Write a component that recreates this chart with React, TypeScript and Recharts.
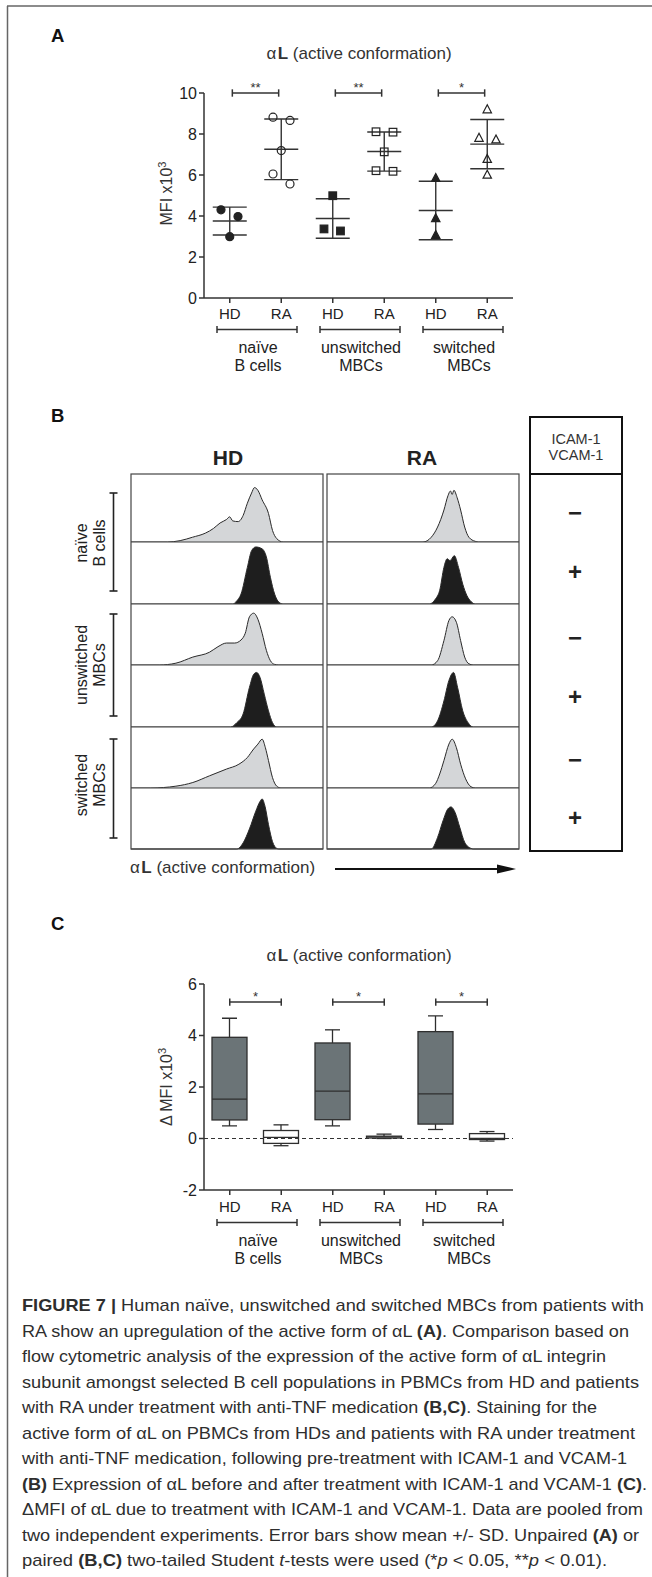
import React from 'react';
import {
  ScatterChart, Scatter, ComposedChart, Bar, AreaChart, Area,
  XAxis, YAxis, ErrorBar, ReferenceLine,
} from 'recharts';

// shared categories
const catLabels = ['HD', 'RA', 'HD', 'RA', 'HD', 'RA'];
const groupLines = [['naïve', 'B cells'], ['unswitched', 'MBCs'], ['switched', 'MBCs']];
const catTicks = [0, 1, 2, 3, 4, 5];

// panel A: MFI x10^3 per donor
const yTicksA = [0, 2, 4, 6, 8, 10];
const naiveHD = [4.3, 3.97, 2.99];
const naiveRA = [8.82, 8.66, 7.19, 6.05, 5.56];
const unswHD = [4.99, 3.37, 3.27];
const unswRA = [8.11, 8.09, 7.13, 6.21, 6.18];
const swHD = [5.85, 3.89, 3.07];
const swRA = [9.2, 7.81, 7.73, 6.78, 6.01];
// horizontal spread of the dots inside each column (category units)
const spreadNaiveHD = [-0.17, 0.16, 0];
const spreadNaiveRA = [-0.16, 0.17, 0, -0.16, 0.17];
const spreadUnswHD = [0, -0.17, 0.15];
const spreadUnswRA = [-0.16, 0.17, 0, -0.16, 0.17];
const spreadSwHD = [0, 0, 0];
const spreadSwRA = [0, -0.16, 0.17, 0, 0];
const sigA = ['**', '**', '*'];

// panel B: histograms (x = position on log axis 0-100, y = % of modal)
const hdNaiveCtl = [[0, 0], [19, 0], [25.6, 2], [32, 7], [38.7, 13], [43, 20], [46.4, 28], [49.7, 33], [51.4, 37], [53, 31], [55.8, 30], [58.4, 39], [60.6, 57], [62.8, 72], [64.3, 80], [66.1, 76], [68.3, 62], [71.6, 42], [73.7, 17], [75.9, 5], [79.2, 0], [100, 0]];
const hdNaiveIcam = [[0, 0], [53, 0], [55.1, 5], [57.3, 16], [60.6, 59], [62.8, 86], [65, 92], [68.3, 89], [70.5, 76], [72.6, 43], [74.8, 16], [77, 3], [79.2, 0], [100, 0]];
const hdUnswCtl = [[0, 0], [14.7, 0], [23.4, 3], [32.2, 13], [40.9, 21], [45.3, 30], [49.7, 36], [54, 36], [57.3, 41], [59.5, 52], [61.7, 79], [63.9, 85], [66.1, 75], [68.3, 52], [70.5, 24], [72.6, 7], [74.8, 1], [77, 0], [100, 0]];
const hdUnswIcam = [[0, 0], [51.9, 0], [55.1, 7], [58.4, 21], [61.7, 64], [63.9, 85], [65.4, 88], [67.2, 80], [69.4, 53], [71.6, 26], [73.7, 7], [75.9, 0], [100, 0]];
const hdSwCtl = [[0, 0], [10.3, 0], [23.4, 3], [32.2, 9], [40.9, 20], [49.7, 31], [56.2, 39], [60.6, 50], [63.9, 64], [66.1, 72], [68.3, 80], [70, 66], [71.6, 45], [73.7, 17], [75.9, 3], [78.1, 0], [100, 0]];
const hdSwIcam = [[0, 0], [55.1, 0], [58.4, 10], [61.7, 33], [65, 62], [67.2, 78], [68.3, 82], [69.8, 70], [71.6, 40], [73.7, 12], [75.9, 1], [77, 0], [100, 0]];
const raNaiveCtl = [[0, 0], [50, 0], [54.3, 7], [57.6, 22], [60.9, 47], [63, 68], [64.3, 75], [65.2, 70], [66.1, 76], [67.8, 65], [69.6, 47], [71.7, 22], [73.9, 7], [77.2, 1], [79, 0], [100, 0]];
const raNaiveIcam = [[0, 0], [53.3, 0], [56.5, 8], [58.7, 22], [60.9, 59], [62.6, 73], [64.1, 70], [66.3, 78], [68.5, 59], [70.7, 32], [72.8, 14], [75, 4], [77.2, 0], [100, 0]];
const raUnswCtl = [[0, 0], [54.3, 0], [57.6, 7], [60.9, 40], [63.5, 73], [65.2, 79], [67.4, 70], [69.6, 40], [71.7, 13], [73.9, 2], [76.1, 0], [100, 0]];
const raUnswIcam = [[0, 0], [54.3, 0], [57.6, 10], [60.9, 42], [63.5, 75], [65.9, 88], [68, 64], [70.7, 26], [73.5, 7], [76.1, 0], [100, 0]];
const raSwCtl = [[0, 0], [53.3, 0], [56.5, 7], [58.7, 23], [60.9, 45], [63.5, 72], [65.2, 80], [67.4, 66], [69.6, 39], [72.2, 15], [75, 2], [77.2, 0], [100, 0]];
const raSwIcam = [[0, 0], [54.3, 0], [57.6, 19], [60.4, 46], [63, 66], [64.6, 69], [66.7, 60], [69.1, 36], [71.7, 11], [75, 1], [76.1, 0], [100, 0]];
const logTicks = [1, 2, 3, 4, 5, 6, 7, 8, 9, 10, 12, 14, 16, 19, 22.5, 29.3, 33.2, 36, 38.2, 40, 41.5, 42.8, 44, 45, 51.8, 55.7, 58.5, 60.7, 62.5, 64, 65.3, 66.5, 67.5, 74.3, 78.2, 81, 83.2, 85, 86.5, 87.8, 89, 90, 96.8];

// panel C: delta MFI x10^3 box plots
const yTicksC = [-2, 0, 2, 4, 6];
const boxMin = [0.49, -0.28, 0.49, 0.0, 0.35, -0.1];
const boxQ1 = [0.72, -0.19, 0.73, 0.02, 0.56, -0.04];
const boxMed = [1.53, 0.04, 1.84, 0.06, 1.73, 0.0];
const boxQ3 = [3.93, 0.31, 3.71, 0.09, 4.15, 0.19];
const boxMax = [4.67, 0.53, 4.22, 0.17, 4.76, 0.27];
const sigC = ['*', '*', '*'];

const captionLines: [string, string][][] = [
  [['FIGURE 7 |', 'b'], [' Human naïve, unswitched and switched MBCs from patients with', '']],
  [['RA show an upregulation of the active form of αL ', ''], ['(A)', 'b'], ['. Comparison based on', '']],
  [['flow cytometric analysis of the expression of the active form of αL integrin', '']],
  [['subunit amongst selected B cell populations in PBMCs from HD and patients', '']],
  [['with RA under treatment with anti-TNF medication ', ''], ['(B,C)', 'b'], ['. Staining for the', '']],
  [['active form of αL on PBMCs from HDs and patients with RA under treatment', '']],
  [['with anti-TNF medication, following pre-treatment with ICAM-1 and VCAM-1', '']],
  [['(B)', 'b'], [' Expression of αL before and after treatment with ICAM-1 and VCAM-1 ', ''], ['(C)', 'b'], ['.', '']],
  [['ΔMFI of αL due to treatment with ICAM-1 and VCAM-1. Data are pooled from', '']],
  [['two independent experiments. Error bars show mean +/- SD. Unpaired ', ''], ['(A)', 'b'], [' or', '']],
  [['paired ', ''], ['(B,C)', 'b'], [' two-tailed Student ', ''], ['t', 'i'], ['-tests were used (*', ''], ['p', 'i'], [' < 0.05, **', ''], ['p', 'i'], [' < 0.01).', '']],
];
const captionEnds = [644, 629, 606, 639, 597, 635, 627, 647, 643, 639, 607];

const INK = '#333';
const FONT = '"Liberation Sans", Arial, sans-serif';

const stats = (a: number[]) => {
  const m = a.reduce((s, v) => s + v, 0) / a.length;
  const sd = Math.sqrt(a.reduce((s, v) => s + (v - m) * (v - m), 0) / (a.length - 1));
  return { m, sd };
};

const groupsA = [
  { vals: naiveHD, dx: spreadNaiveHD, kind: 'circle', filled: true },
  { vals: naiveRA, dx: spreadNaiveRA, kind: 'circle', filled: false },
  { vals: unswHD, dx: spreadUnswHD, kind: 'square', filled: true },
  { vals: unswRA, dx: spreadUnswRA, kind: 'square', filled: false },
  { vals: swHD, dx: spreadSwHD, kind: 'triangle', filled: true },
  { vals: swRA, dx: spreadSwRA, kind: 'triangle', filled: false },
];

const marker = (kind: string, filled: boolean) => (p: any) => {
  const { cx, cy } = p;
  const fill = filled ? '#222' : 'none';
  if (kind === 'circle') return <circle cx={cx} cy={cy} r={4} fill={fill} stroke="#222" strokeWidth={1.2} />;
  if (kind === 'square') return <rect x={cx - 3.8} y={cy - 3.8} width={7.6} height={7.6} fill={fill} stroke="#222" strokeWidth={1.2} />;
  return <path d={`M${cx},${cy - 4.6}L${cx + 4.2},${cy + 3.4}L${cx - 4.2},${cy + 3.4}Z`} fill={fill} stroke="#222" strokeWidth={1.2} />;
};

const MeanLine = (p: any) => (
  <line x1={p.cx - 17} x2={p.cx + 17} y1={p.cy} y2={p.cy} stroke={INK} strokeWidth={1.4} />
);

// HD / RA tick, the RA tick also carries the bracket and population name below
const CatTick = (props: any) => {
  const { x, y, payload, width } = props;
  const i = Math.round(Number(payload.value));
  const band = (width && width > 100 ? width : 309) / catLabels.length;
  const label = (
    <text x={x} y={y + 11} textAnchor="middle" fontSize={15} fill="#222">{catLabels[i]}</text>
  );
  if (i % 2 === 0) return label;
  const g = (i - 1) / 2;
  const gx = x - band / 2;
  const by = y + 21.5;
  return (
    <g>
      {label}
      <line x1={gx - 38.5} x2={gx + 41.5} y1={by} y2={by} stroke={INK} strokeWidth={1.5} />
      <line x1={gx - 38.5} x2={gx - 38.5} y1={by - 3.5} y2={by + 3.5} stroke={INK} strokeWidth={1.5} />
      <line x1={gx + 41.5} x2={gx + 41.5} y1={by - 3.5} y2={by + 3.5} stroke={INK} strokeWidth={1.5} />
      <text x={gx + 2.5} y={y + 44.5} textAnchor="middle" fontSize={16} fill="#222">{groupLines[g][0]}</text>
      <text x={gx + 2.5 + (g === 2 ? 5 : 0)} y={y + 63} textAnchor="middle" fontSize={16} fill="#222">{groupLines[g][1]}</text>
    </g>
  );
};

const axisStyle = { stroke: INK, strokeWidth: 1.5 };

const sigLines = (axisId: string, level: number, cap: number, stars: string[], inset: number) =>
  stars.flatMap((s, g) => {
    const a = 2 * g + inset;
    const b = 2 * g + 1 - inset;
    return [
      <ReferenceLine key={`h${g}`} xAxisId={axisId} segment={[{ x: a, y: level }, { x: b, y: level }]} stroke={INK} strokeWidth={1.5} ifOverflow="visible"
        label={{ value: s, position: 'top', offset: 1, fill: INK, fontSize: 13 }} />,
      <ReferenceLine key={`l${g}`} xAxisId={axisId} segment={[{ x: a, y: level - cap }, { x: a, y: level + cap }]} stroke={INK} strokeWidth={1.5} ifOverflow="visible" />,
      <ReferenceLine key={`r${g}`} xAxisId={axisId} segment={[{ x: b, y: level - cap }, { x: b, y: level + cap }]} stroke={INK} strokeWidth={1.5} ifOverflow="visible" />,
    ];
  });

function PanelA() {
  const statData = groupsA.map((g, i) => {
    const { m, sd } = stats(g.vals);
    return { x: i, y: m, sd };
  });
  return (
    <ScatterChart width={540} height={382} margin={{ top: 93, right: 27, bottom: 0, left: 160 }}>
      <XAxis xAxisId="num" dataKey="x" type="number" domain={[-0.5, 5.5]} ticks={catTicks} interval={0}
        height={84} tickSize={5} tickMargin={5} tick={<CatTick />} axisLine={axisStyle} tickLine={axisStyle} allowDataOverflow />
      <YAxis dataKey="y" type="number" domain={[0, 10]} ticks={yTicksA} width={44} tickSize={5} tickMargin={2}
        tick={{ fill: '#222', fontSize: 16 }} axisLine={axisStyle} tickLine={axisStyle} allowDataOverflow />
      <Scatter xAxisId="num" data={statData} shape={MeanLine} isAnimationActive={false}>
        <ErrorBar dataKey="sd" direction="y" width={17} stroke={INK} strokeWidth={1.4} />
      </Scatter>
      {groupsA.map((g, i) => (
        <Scatter key={i} xAxisId="num" data={g.vals.map((v, k) => ({ x: i + g.dx[k], y: v }))}
          shape={marker(g.kind, g.filled)} isAnimationActive={false} />
      ))}
      {sigLines('num', 10, 0.18, sigA, 0.05)}
    </ScatterChart>
  );
}

const BoxShape = (p: any) => {
  const { x, width, payload } = p;
  const top = Math.min(p.y, p.y + p.height);
  const h = Math.abs(p.height);
  const ppu = h / (payload.q3 - payload.q1);
  const cx = x + width / 2;
  const yMed = top + (payload.q3 - payload.med) * ppu;
  const yMax = top - (payload.max - payload.q3) * ppu;
  const yMin = top + h + (payload.q1 - payload.min) * ppu;
  const fill = payload.i % 2 === 0 ? '#6b7477' : '#ffffff';
  return (
    <g>
      <line x1={cx} x2={cx} y1={yMax} y2={top} stroke="#2e2e2e" strokeWidth={1.3} />
      <line x1={cx} x2={cx} y1={top + h} y2={yMin} stroke="#2e2e2e" strokeWidth={1.3} />
      <line x1={cx - 7.5} x2={cx + 7.5} y1={yMax} y2={yMax} stroke="#2e2e2e" strokeWidth={1.3} />
      <line x1={cx - 7.5} x2={cx + 7.5} y1={yMin} y2={yMin} stroke="#2e2e2e" strokeWidth={1.3} />
      <rect x={x} y={top} width={width} height={h} fill={fill} stroke="#2e2e2e" strokeWidth={1.3} />
      <line x1={x} x2={x + width} y1={yMed} y2={yMed} stroke="#2e2e2e" strokeWidth={1.3} />
    </g>
  );
};

function PanelC() {
  const data = catLabels.map((c, i) => ({
    i, box: [boxQ1[i], boxQ3[i]], q1: boxQ1[i], q3: boxQ3[i], med: boxMed[i], min: boxMin[i], max: boxMax[i],
  }));
  return (
    <ComposedChart width={540} height={374} data={data} margin={{ top: 84, right: 27, bottom: 0, left: 160 }}>
      <XAxis xAxisId="main" dataKey="i" type="category" height={84} tickSize={5} tickMargin={6} interval={0}
        tick={<CatTick />} axisLine={axisStyle} tickLine={axisStyle} />
      <YAxis type="number" domain={[-2, 6]} ticks={yTicksC} width={44} tickSize={5} tickMargin={2}
        tick={{ fill: '#222', fontSize: 16 }} axisLine={axisStyle} tickLine={axisStyle} allowDataOverflow />
      <Bar xAxisId="main" dataKey="box" barSize={35} shape={BoxShape} isAnimationActive={false} />
      <ReferenceLine xAxisId="main" y={0} stroke={INK} strokeWidth={1.2} strokeDasharray="4 3" />
      {sigLines('main', 5.3, 0.14, sigC, 0)}
    </ComposedChart>
  );
}

function Histo({ pts, dark, w, h, axis }: { pts: number[][]; dark: boolean; w: number; h: number; axis: boolean }) {
  const data = pts.map(([x, y]) => ({ x, y }));
  return (
    <AreaChart width={w} height={h + (axis ? 8 : 0)} data={data} margin={{ top: 0, right: 0, bottom: 0, left: 0 }}>
      <XAxis dataKey="x" type="number" domain={[0, 100]} hide={!axis} ticks={logTicks} interval={0} tick={false}
        tickLine={{ stroke: '#444' }} tickSize={5} axisLine={false} height={8} />
      <YAxis domain={[0, 100]} hide />
      <Area type="monotone" dataKey="y" stroke="#2a2a2a" strokeWidth={1} fill={dark ? '#1e1e1e' : '#d4d6d8'}
        fillOpacity={1} isAnimationActive={false} />
    </AreaChart>
  );
}

const hdRows = [hdNaiveCtl, hdNaiveIcam, hdUnswCtl, hdUnswIcam, hdSwCtl, hdSwIcam];
const raRows = [raNaiveCtl, raNaiveIcam, raUnswCtl, raUnswIcam, raSwCtl, raSwIcam];
const rowTops = [474, 542, 604, 665, 727, 788, 849];
const colLeft = [131, 327];
const colW = 192;

const AlphaL = ({ x, y, size, anchor }: { x: number; y: number; size: number; anchor: 'start' | 'middle' }) => (
  <text x={x} y={y} fontSize={size} fill={INK} textAnchor={anchor}>
    α<tspan dx={1.5} fontWeight={700}>L</tspan> (active conformation)
  </text>
);

export default function App() {
  const signs = ['−', '+', '−', '+', '−', '+'];
  const signY = [513, 572, 638, 697, 760, 818];
  const sideGroups = [
    { top: 493, bottom: 591, cy: 543 },
    { top: 614, bottom: 716, cy: 665 },
    { top: 739, bottom: 838, cy: 785 },
  ];
  return (
    <div style={{ position: 'relative', width: 652, height: 1577, background: '#fff', overflow: 'hidden', fontFamily: FONT }}>
      <style>{'body{margin:0}'}</style>
      <div style={{ position: 'absolute', left: 0, top: 0 }}><PanelA /></div>
      {hdRows.map((_, r) => (
        <React.Fragment key={r}>
          <div style={{ position: 'absolute', left: colLeft[0], top: rowTops[r] }}>
            <Histo pts={hdRows[r]} dark={r % 2 === 1} w={colW} h={rowTops[r + 1] - rowTops[r]} axis={r === 5} />
          </div>
          <div style={{ position: 'absolute', left: colLeft[1], top: rowTops[r] }}>
            <Histo pts={raRows[r]} dark={r % 2 === 1} w={colW} h={rowTops[r + 1] - rowTops[r]} axis={r === 5} />
          </div>
        </React.Fragment>
      ))}
      <div style={{ position: 'absolute', left: 0, top: 900 }}><PanelC /></div>

      <svg style={{ position: 'absolute', left: 0, top: 0 }} width={652} height={1577} fontFamily={FONT}>
        {/* figure frame */}
        <line x1={7} x2={652} y1={6} y2={6} stroke="#666" strokeWidth={1.5} />
        <line x1={7.5} x2={7.5} y1={6} y2={1577} stroke="#666" strokeWidth={1.5} />

        {/* A */}
        <text x={51} y={42} fontSize={18.5} fontWeight={700} fill="#111">A</text>
        <AlphaL x={359} y={58.5} size={17} anchor="middle" />
        <text transform="translate(172,193.5) rotate(-90)" textAnchor="middle" fontSize={16} fill={INK}>
          MFI x10<tspan dy={-6} fontSize={11}>3</tspan>
        </text>

        {/* B */}
        <text x={51} y={422} fontSize={18.5} fontWeight={700} fill="#111">B</text>
        <text x={228} y={465} fontSize={21} fontWeight={700} fill="#222" textAnchor="middle">HD</text>
        <text x={422} y={465} fontSize={21} fontWeight={700} fill="#222" textAnchor="middle">RA</text>
        {colLeft.map((l) => (
          <g key={l}>
            <rect x={l} y={rowTops[0]} width={colW} height={rowTops[6] - rowTops[0]} fill="none" stroke="#444" strokeWidth={1.2} />
            {rowTops.slice(1, 6).map((t) => (
              <line key={t} x1={l} x2={l + colW} y1={t} y2={t} stroke="#444" strokeWidth={1.2} />
            ))}
          </g>
        ))}
        <rect x={530} y={417} width={92} height={434} fill="none" stroke="#111" strokeWidth={2} />
        <line x1={530} x2={622} y1={474} y2={474} stroke="#111" strokeWidth={2} />
        <text x={576} y={444} fontSize={14.5} fill={INK} textAnchor="middle">ICAM-1</text>
        <text x={576} y={460} fontSize={14.5} fill={INK} textAnchor="middle">VCAM-1</text>
        {signs.map((s, i) => (
          <text key={i} x={575} y={signY[i] + 8} fontSize={24} fontWeight={700} fill="#222" textAnchor="middle">{s}</text>
        ))}
        {sideGroups.map((g, i) => (
          <g key={i}>
            <line x1={113.5} x2={113.5} y1={g.top} y2={g.bottom} stroke="#222" strokeWidth={1.6} />
            <line x1={109.5} x2={117.5} y1={g.top} y2={g.top} stroke="#222" strokeWidth={1.6} />
            <line x1={109.5} x2={117.5} y1={g.bottom} y2={g.bottom} stroke="#222" strokeWidth={1.6} />
            <text transform={`translate(87,${g.cy}) rotate(-90)`} textAnchor="middle" fontSize={16} fill="#222">{groupLines[i][0]}</text>
            <text transform={`translate(104.5,${g.cy}) rotate(-90)`} textAnchor="middle" fontSize={16} fill="#222">{groupLines[i][1]}</text>
          </g>
        ))}
        <AlphaL x={130} y={873} size={17} anchor="start" />
        <line x1={335} x2={500} y1={869} y2={869} stroke="#111" strokeWidth={2} />
        <path d="M497,864.5L516,869L497,873.5Z" fill="#111" />

        {/* C */}
        <text x={51} y={930} fontSize={18.5} fontWeight={700} fill="#111">C</text>
        <AlphaL x={359} y={961} size={17} anchor="middle" />
        <text transform="translate(172,1087) rotate(-90)" textAnchor="middle" fontSize={16} fill={INK}>
          Δ MFI x10<tspan dy={-6} fontSize={11}>3</tspan>
        </text>

        {/* caption */}
        {captionLines.map((segs, i) => (
          <text key={i} x={22} y={1311 + i * 25.5} fontSize={17} fill="#2e2e2e" style={{ whiteSpace: 'pre' }}
            fontFamily='"Liberation Sans Narrow", "Liberation Sans", Arial, sans-serif'
            textLength={captionEnds[i] - 22} lengthAdjust="spacingAndGlyphs">
            {segs.map(([t, s], k) => (
              <tspan key={k} fontWeight={s === 'b' ? 700 : 400} fontStyle={s === 'i' ? 'italic' : 'normal'}>{t}</tspan>
            ))}
          </text>
        ))}
      </svg>
    </div>
  );
}
